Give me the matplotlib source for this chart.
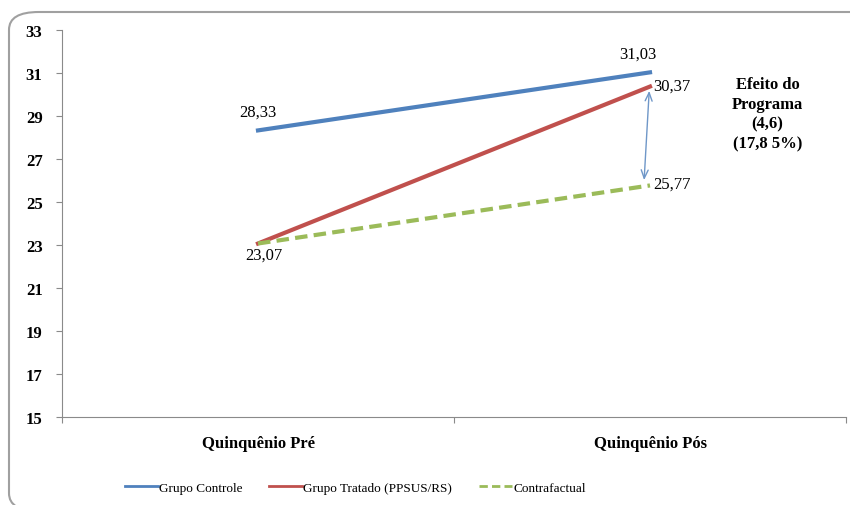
import matplotlib.pyplot as plt
from matplotlib.patches import FancyBboxPatch

# dados do gráfico
categorias = ["Quinquênio Pré", "Quinquênio Pós"]
grupo_controle = [28.33, 31.03]
grupo_tratado = [23.07, 30.37]
contrafactual = [23.07, 25.77]
y_ticks = [15, 17, 19, 21, 23, 25, 27, 29, 31, 33]
efeito_texto = "Efeito do\nPrograma\n(4,6)\n(17,8 5%)"

plt.rcParams["font.family"] = ["Liberation Serif", "DejaVu Serif"]

fig = plt.figure(figsize=(8.5, 5.06), dpi=100)

# moldura arredondada do gráfico (vai além da borda direita e inferior)
frame = FancyBboxPatch(
    (9 / 850, 1 - 512 / 506), 900 / 850, 499 / 506,
    boxstyle="round,pad=0,rounding_size=0.035",
    transform=fig.transFigure, facecolor="white", edgecolor="#a0a0a0",
    linewidth=1.5, zorder=-5,
)
fig.patches.append(frame)

ax = fig.add_axes([62 / 850, 1 - 418 / 506, 784 / 850, 387 / 506])
ax.set_facecolor("none")

x = [0, 1]
ax.plot(x, grupo_controle, color="#4F81BD", linewidth=3, label="Grupo Controle")
ax.plot(x, grupo_tratado, color="#C0504D", linewidth=3, label="Grupo Tratado (PPSUS/RS)")
ax.plot(x, contrafactual, color="#9BBB59", linewidth=3, linestyle=(0, (3, 1.5)),
        label="Contrafactual")

# rótulos dos valores
fmt = lambda v: f"{v:.2f}".replace(".", ",")
ax.annotate(fmt(grupo_controle[0]), (x[0], grupo_controle[0]), xytext=(0, 8),
            textcoords="offset points", ha="center", va="bottom", fontsize=12)
ax.annotate(fmt(grupo_controle[1]), (x[1], grupo_controle[1]), xytext=(-9, 8),
            textcoords="offset points", ha="center", va="bottom", fontsize=12)
ax.annotate(fmt(grupo_tratado[1]), (x[1], grupo_tratado[1]), xytext=(2, 1),
            textcoords="offset points", ha="left", va="center", fontsize=12)
ax.annotate(fmt(contrafactual[1]), (x[1], contrafactual[1]), xytext=(2, 1),
            textcoords="offset points", ha="left", va="center", fontsize=12)
ax.annotate(fmt(grupo_tratado[0]), (x[0], grupo_tratado[0]), xytext=(4, -2),
            textcoords="offset points", ha="center", va="top", fontsize=12)

# seta dupla do efeito
ax.annotate("", xy=(0.985, contrafactual[1] + 0.25), xytext=(0.998, grupo_tratado[1] - 0.2),
            arrowprops=dict(arrowstyle="<->,head_length=0.6,head_width=0.25",
                            color="#6F97C8", linewidth=1, shrinkA=0, shrinkB=0))
ax.text(1.30, 29.1, efeito_texto, ha="center", va="center", fontsize=12,
        fontweight="bold", linespacing=1.3)

ax.set_xlim(-0.5, 1.5)
ax.set_ylim(15, 33)
ax.set_yticks(y_ticks)
ax.set_xticks([-0.5, 0.5, 1.5], minor=False)
ax.set_xticklabels([])
ax.set_xticks(x, minor=True)
ax.set_xticklabels(categorias, minor=True, fontweight="bold", fontsize=12)
ax.tick_params(axis="x", which="minor", length=0, pad=13)
ax.tick_params(axis="x", which="major", length=4, direction="out", color="#8a8a8a")
ax.tick_params(axis="y", length=4, color="#8a8a8a", labelsize=12, pad=10)
for lbl in ax.get_yticklabels():
    lbl.set_fontweight("bold")

for side in ["top", "right"]:
    ax.spines[side].set_visible(False)
for side in ["left", "bottom"]:
    ax.spines[side].set_color("#8a8a8a")

leg = ax.legend(loc="center", bbox_to_anchor=(0.374, -0.183), ncol=3, frameon=False,
                fontsize=9.5, handlelength=2.5, handletextpad=0.1, columnspacing=2.0)
for line in leg.get_lines():
    line.set_linewidth(2)

fig.savefig("out.png", dpi=100)
